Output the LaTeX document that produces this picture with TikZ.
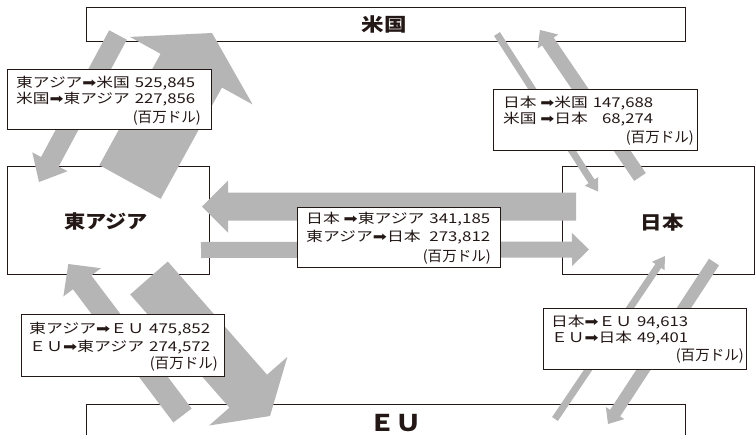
\documentclass[tikz,border=0pt]{standalone}
\usepackage{fontspec}
\usepackage{graphicx}
\setmainfont{Noto Sans CJK JP}
\newfontfamily\jpfont{Noto Sans CJK JP}
\newfontfamily\dvfont{DejaVu Sans}
\usetikzlibrary{calc}
\definecolor{arrowgray}{RGB}{181,181,181}
\definecolor{ink}{RGB}{35,24,21}
\newcommand\jarrow{{\dvfont ➡}}
% #1 name, #2 tail, #3 tip, #4 half shaft width, #5 half head width, #6 head length
\newcommand\fatarrow[6]{%
  \coordinate (#1-h) at ($(#3)!#6!(#2)$);
  \fill[arrowbody] ($(#2)!#4!90:(#3)$) -- ($(#1-h)!#4!90:(#3)$) -- ($(#1-h)!#5!90:(#3)$)
    -- (#3) -- ($(#1-h)!#5!-90:(#3)$) -- ($(#1-h)!#4!-90:(#3)$) -- ($(#2)!#4!-90:(#3)$) -- cycle;
}
\newcommand\twolines[5]{% width, l1, n1, l2, n2
  \resizebox{#1}{\height}{\begin{tabular}{@{}l@{\hspace{4pt}}r@{}}#2 & #3\\ #4 & #5\end{tabular}}}
\newcommand\unitline{\resizebox{68pt}{\height}{(百万ドル)}}
\begin{document}
\begin{tikzpicture}[x=1pt,y=-1pt,
  mainbox/.style={draw=ink, line width=0.9pt, fill=white, inner sep=0pt},
  maintext/.style={inner sep=0pt, text=ink, font=\jpfont\bfseries\fontsize{18.5}{20}\selectfont},
  lblbox/.style={draw=ink, line width=0.8pt, fill=white, inner sep=0pt},
  lbltext/.style={anchor=west, inner sep=0pt, text=ink},
  unittext/.style={anchor=east, inner sep=0pt, text=ink, font=\jpfont\fontsize{14.5}{16}\selectfont},
  arrowbody/.style={fill=arrowgray}]
\useasboundingbox (0,0) rectangle (755,434);
\fill[white] (0,0) rectangle (755,434);

% main boxes
\node[mainbox, minimum width=599pt, minimum height=34pt] (us) at (385.5,24) {};
\node[mainbox, minimum width=202pt, minimum height=108pt] (ea) at (108,220) {};
\node[mainbox, minimum width=192pt, minimum height=108pt] (jp) at (658,220) {};
\node[mainbox, minimum width=599pt, minimum height=44pt] (eu) at (385.5,426) {};
\node[maintext] (ustext) at (384,24) {\resizebox{45pt}{\height}{米国}};
\node[maintext] (eatext) at (106,221) {\resizebox{84pt}{\height}{東アジア}};
\node[maintext] (jptext) at (662,222) {\resizebox{43pt}{\height}{日本}};
\node[maintext, font=\jpfont\bfseries\fontsize{23}{24}\selectfont] (eutext) at (395.5,423.5) {\resizebox{52pt}{\height}{ＥＵ}};

% arrow end points
\coordinate (A-t) at (130,182); \coordinate (A-p) at (212,33);
\coordinate (B-t) at (118,35);  \coordinate (B-p) at (39,182);
\coordinate (C-t) at (640,177); \coordinate (C-p) at (540,30);
\coordinate (D-t) at (497,34);  \coordinate (D-p) at (598,191.5);
\coordinate (E-t) at (576,206.5); \coordinate (E-p) at (202,206.5);
\coordinate (F-t) at (201,250); \coordinate (F-p) at (589,249.5);
\coordinate (G-t) at (149,278); \coordinate (G-p) at (270,416);
\coordinate (H-t) at (182.5,415.5); \coordinate (H-p) at (68.3,264);
\coordinate (I-t) at (714,262); \coordinate (I-p) at (608,424);
\coordinate (J-t) at (555,419); \coordinate (J-p) at (665,256);

\fatarrow{A}{A-t}{A-p}{35pt}{70pt}{43pt}
\fatarrow{B}{B-t}{B-p}{10pt}{20pt}{23pt}
\fatarrow{C}{C-t}{C-p}{7pt}{12.5pt}{14pt}
\fatarrow{D}{D-t}{D-p}{3.5pt}{8pt}{12pt}
\fatarrow{E}{E-t}{E-p}{14pt}{26pt}{26pt}
\fatarrow{F}{F-t}{F-p}{8pt}{16.5pt}{17pt}
\fatarrow{G}{G-t}{G-p}{25pt}{52pt}{33pt}
\fatarrow{H}{H-t}{H-p}{11.5pt}{23.5pt}{23pt}
\fatarrow{I}{I-t}{I-p}{6pt}{11pt}{13pt}
\fatarrow{J}{J-t}{J-p}{3.5pt}{7.5pt}{12pt}

% label boxes
\node[lblbox, minimum width=204pt, minimum height=60pt] (l1) at (109,99) {};
\node[lblbox, minimum width=204pt, minimum height=61pt] (l2) at (595,119.5) {};
\node[lblbox, minimum width=203pt, minimum height=60pt] (l3) at (398.5,237) {};
\node[lblbox, minimum width=203pt, minimum height=62pt] (l4) at (122.5,345) {};
\node[lblbox, minimum width=203pt, minimum height=61pt] (l5) at (644.5,338.5) {};

% label texts
\node[lbltext, font=\jpfont\fontsize{13.5}{16.5}\selectfont] (l1t) at (16,92.3)
  {\twolines{179pt}{東アジア\jarrow 米国}{525,845}{米国\jarrow 東アジア}{227,856}};
\node[unittext] (l1u) at (201,118) {\unitline};

\node[lbltext, font=\jpfont\fontsize{13.5}{16}\selectfont] (l2t) at (503,112.5)
  {\twolines{150pt}{日本 \jarrow 米国}{147,688}{米国 \jarrow 日本}{68,274}};
\node[unittext] (l2u) at (694,138) {\unitline};

\node[lbltext, font=\jpfont\fontsize{13.5}{18.4}\selectfont] (l3t) at (306,229)
  {\twolines{184pt}{日本 \jarrow 東アジア}{341,185}{東アジア\jarrow 日本}{273,812}};
\node[unittext] (l3u) at (491,256.7) {\unitline};

\node[lbltext, font=\jpfont\fontsize{13.5}{18}\selectfont] (l4t) at (29,339)
  {\twolines{181pt}{東アジア\jarrow ＥＵ}{475,852}{ＥＵ\jarrow 東アジア}{274,572}};
\node[unittext] (l4u) at (218,364) {\unitline};

\node[lbltext, font=\jpfont\fontsize{13.5}{16.5}\selectfont] (l5t) at (551,331.3)
  {\twolines{137pt}{日本\jarrow ＥＵ}{94,613}{ＥＵ\jarrow 日本}{49,401}};
\node[unittext] (l5u) at (744,355.7) {\unitline};
\end{tikzpicture}
\end{document}
